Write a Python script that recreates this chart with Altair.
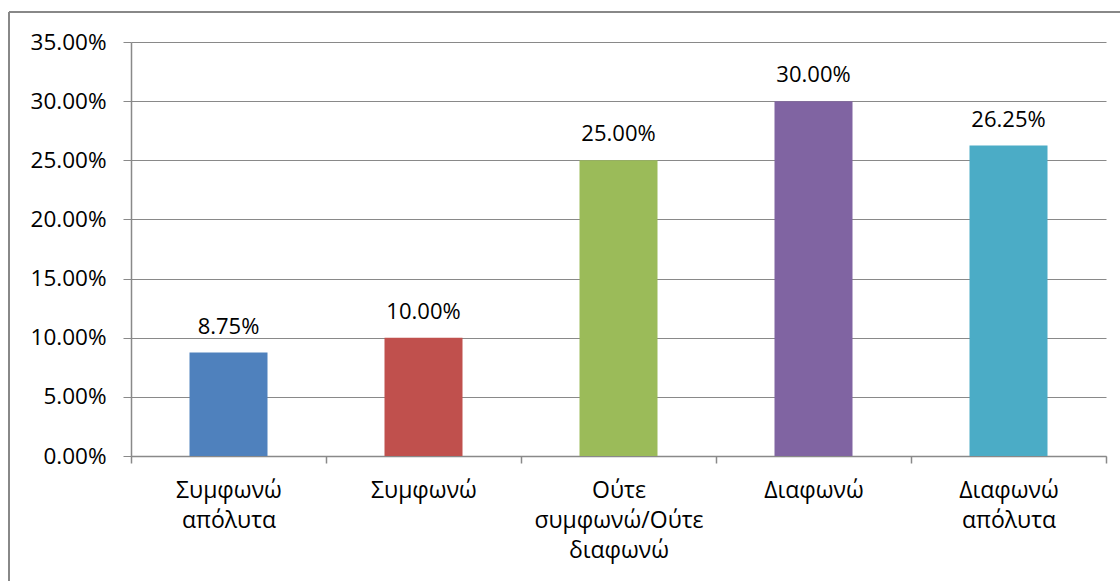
import altair as alt
import pandas as pd

# Survey answers (Likert scale) and the share of respondents for each
categories = [
    "Συμφωνώ\nαπόλυτα",
    "Συμφωνώ",
    "Ούτε\nσυμφωνώ/Ούτε\nδιαφωνώ",
    "Διαφωνώ",
    "Διαφωνώ\nαπόλυτα",
]
shares = [0.0875, 0.10, 0.25, 0.30, 0.2625]
colors = ["#4F81BD", "#C0504D", "#9BBB59", "#8064A2", "#4BACC6"]
y_ticks = [0.0, 0.05, 0.10, 0.15, 0.20, 0.25, 0.30, 0.35]

df = pd.DataFrame({"answer": categories, "share": shares})

FONT = "Open Sans"
GRID = "#898989"
W, H = 975, 414

x_enc = alt.X(
    "answer:N",
    sort=categories,
    scale=alt.Scale(paddingInner=0, paddingOuter=0),
    axis=alt.Axis(
        title=None,
        labelAngle=0,
        labelExpr="split(datum.label, '\\n')",
        labelFontSize=23,
        labelFont=FONT,
        labelColor="#000000",
        labelLineHeight=30,
        labelPadding=16,
        labelBaseline="top",
        tickBand="extent",
        tickSize=7,
        tickColor=GRID,
        domainColor=GRID,
        domainWidth=1.5,
        tickWidth=1.5,
        grid=False,
    ),
)

bars = alt.Chart(df).mark_bar(width=alt.RelativeBandSize(0.4)).encode(
    x=x_enc,
    y=alt.Y(
        "share:Q",
        scale=alt.Scale(domain=[0, 0.35], nice=False),
        axis=alt.Axis(
            title=None,
            values=y_ticks,
            format=".2%",
            labelFontSize=22.5,
            labelFont=FONT,
            labelColor="#000000",
            labelPadding=17,
            tickSize=8,
            tickColor=GRID,
            domainColor=GRID,
            domainWidth=1.5,
            gridColor=GRID,
            gridWidth=1.2,
            grid=True,
        ),
    ),
    color=alt.Color(
        "answer:N",
        sort=categories,
        scale=alt.Scale(domain=categories, range=colors),
        legend=None,
    ),
)

labels = alt.Chart(df).mark_text(
    font=FONT, fontSize=22, color="#000000", baseline="alphabetic", dy=-19
).encode(
    x=alt.X("answer:N", sort=categories),
    y="share:Q",
    text=alt.Text("share:Q", format=".2%"),
)

# outer chart frame: left and top edges only, the rest runs off the canvas
frame_left = alt.Chart(df).mark_rule(color=GRID, strokeWidth=1.5).encode(
    x=alt.value(-122), y=alt.value(-30), y2=alt.value(H + 200)
)
frame_top = alt.Chart(df).mark_rule(color=GRID, strokeWidth=1.5).encode(
    x=alt.value(-122), x2=alt.value(W + 200), y=alt.value(-30)
)

chart = (
    alt.layer(frame_left, frame_top, bars, labels)
    .properties(
        width=W,
        height=H,
        padding={"left": 131, "top": 42, "right": 14, "bottom": 125},
        autosize=alt.AutoSizeParams(type="none"),
        background="#ffffff",
    )
    .configure_view(stroke=None)
)

chart.save("out.html", embed_options={"renderer": "svg", "actions": False})
